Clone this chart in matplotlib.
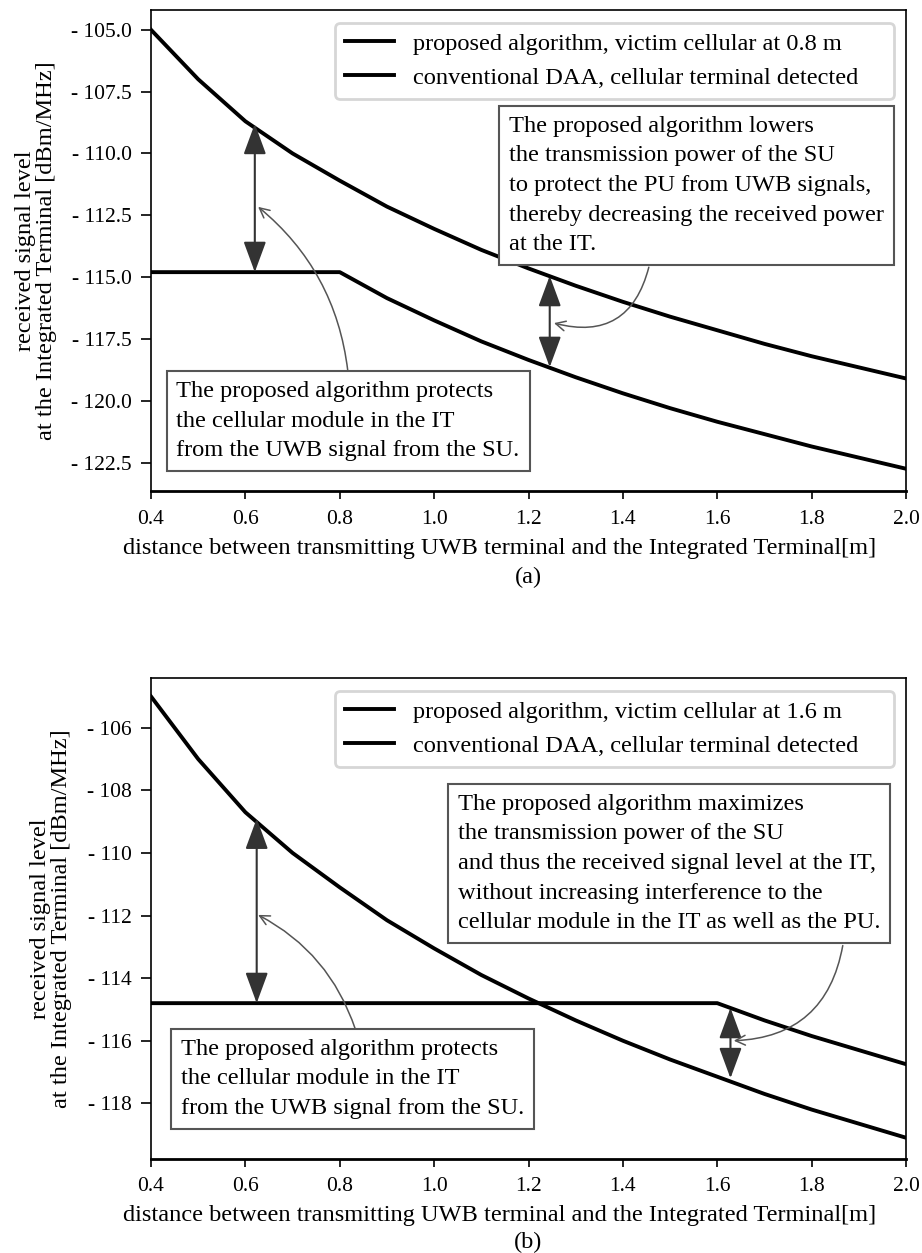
import matplotlib

matplotlib.use("Agg")
import matplotlib.pyplot as plt  # noqa: E402
from matplotlib.ticker import FuncFormatter  # noqa: E402

plt.rcParams["font.family"] = ["Liberation Serif", "DejaVu Serif"]
plt.rcParams["font.size"] = 17.6

# distance between transmitting UWB terminal and the IT [m]
dist = [0.4, 0.5, 0.6, 0.7, 0.8, 0.9, 1.0, 1.1, 1.2, 1.3, 1.4, 1.5, 1.6,
        1.7, 1.8, 1.9, 2.0]

# received level [dBm/MHz]
smooth_level = [-105.0, -107.0, -108.7, -110.0, -111.1, -112.15, -113.05,
                -113.9, -114.65, -115.35, -116.0, -116.6, -117.15, -117.7,
                -118.2, -118.65, -119.1]
kinked_level_a = [-114.8, -114.8, -114.8, -114.8, -114.8, -115.85, -116.75,
                  -117.6, -118.35, -119.05, -119.7, -120.3, -120.85, -121.35,
                  -121.85, -122.3, -122.75]
kinked_level_b = [-114.8, -114.8, -114.8, -114.8, -114.8, -114.8, -114.8,
                  -114.8, -114.8, -114.8, -114.8, -114.8, -114.8, -115.35,
                  -115.85, -116.3, -116.75]

xticks = [0.4, 0.6, 0.8, 1.0, 1.2, 1.4, 1.6, 1.8, 2.0]
yticks_a = [-105.0, -107.5, -110.0, -112.5, -115.0, -117.5, -120.0, -122.5]
yticks_b = [-106, -108, -110, -112, -114, -116, -118]

label_prop_a = "proposed algorithm, victim cellular at 0.8 m"
label_prop_b = "proposed algorithm, victim cellular at 1.6 m"
label_conv = "conventional DAA, cellular terminal detected"

note_protect = ("The proposed algorithm protects\n"
                "the cellular module in the IT\n"
                "from the UWB signal from the SU.")
note_lower = ("The proposed algorithm lowers\n"
              "the transmission power of the SU\n"
              "to protect the PU from UWB signals,\n"
              "thereby decreasing the received power\n"
              "at the IT.")
note_max = ("The proposed algorithm maximizes\n"
            "the transmission power of the SU\n"
            "and thus the received signal level at the IT,\n"
            "without increasing interference to the\n"
            "cellular module in the IT as well as the PU.")

W, H = 922, 1253
BOX = dict(boxstyle="square,pad=0.4", fc="white", ec="#555555", lw=1.5)
DOUBLE = dict(arrowstyle="<|-|>,head_length=0.95,head_width=0.35",
              mutation_scale=20, color="#333333", lw=1.5,
              shrinkA=0, shrinkB=0)
LS = 1.54  # line spacing inside the note boxes


def curved(rad):
    return dict(arrowstyle="->", color="#555555", lw=1.1,
                connectionstyle=f"arc3,rad={rad}", shrinkA=0, shrinkB=0)


def setup(ax, yticks, fmt, ylim, ylab_x, xlab_y, leg_top):
    ax.set_xlim(0.4, 2.0)
    ax.set_ylim(*ylim)
    ax.set_xticks(xticks)
    ax.set_yticks(yticks)
    ax.yaxis.set_major_formatter(FuncFormatter(lambda v, p: fmt % abs(v)))
    ax.tick_params(labelsize=15.5, direction="out", width=1.2,
                   top=False, right=False)
    ax.tick_params(axis="y", length=7, pad=7)
    ax.tick_params(axis="x", length=5.5, pad=8)
    for s in ax.spines.values():
        s.set_linewidth(1.2)
    ax.spines["bottom"].set_linewidth(2.0)
    ax.set_xlabel("distance between transmitting UWB terminal and the "
                  "Integrated Terminal[m]")
    ax.xaxis.set_label_coords((499.5 - 151) / 755, xlab_y)
    ax.set_ylabel("received signal level\n"
                  "at the Integrated Terminal [dBm/MHz]", linespacing=1.0)
    ax.yaxis.set_label_coords(ylab_x, 0.5)
    x0 = (335 - 151) / 755
    leg = ax.legend(loc="upper left", mode="expand", borderaxespad=0,
                    bbox_to_anchor=(x0, 0, (894 - 335) / 755, leg_top))
    leg.get_frame().set_linewidth(2.0)


fig = plt.figure(figsize=(W / 100, H / 100), dpi=100)

# (a)
ax1 = fig.add_axes([151 / W, 1 - 491 / H, 755 / W, 481 / H])
ax1.plot(dist, kinked_level_a, color="black", lw=2.8, label=label_prop_a)
ax1.plot(dist, smooth_level, color="black", lw=2.8, label=label_conv)
setup(ax1, yticks_a, "- %.1f", (-123.65, -104.2), (57 - 151) / 755,
      (491 - 538.5) / 481, 1 - 12.7 / 481)
ax1.annotate("", xy=(0.62, -108.8), xytext=(0.62, -114.8), arrowprops=DOUBLE)
ax1.annotate("", xy=(1.245, -114.95), xytext=(1.245, -118.64),
             arrowprops=DOUBLE)
ax1.text(0.454, -119.2, note_protect, ha="left", va="top", bbox=BOX,
         linespacing=LS)
ax1.text(1.159, -108.48, note_lower, ha="left", va="top", bbox=BOX,
         linespacing=LS)
ax1.annotate("", xy=(0.627, -112.16), xytext=(0.817, -118.78),
             arrowprops=curved(0.2))
ax1.annotate("", xy=(1.254, -116.86), xytext=(1.455, -114.6),
             arrowprops=curved(-0.5))
fig.text(528.5 / W, 1 - 577 / H, "(a)", ha="center", va="center")

# (b)
ax2 = fig.add_axes([151 / W, 1 - 1158.7 / H, 755 / W, 480.4 / H])
ax2.plot(dist, kinked_level_b, color="black", lw=2.8, label=label_prop_b)
ax2.plot(dist, smooth_level, color="black", lw=2.8, label=label_conv)
setup(ax2, yticks_b, "- %.0f", (-119.77, -104.42), (71.7 - 151) / 755,
      (1158.7 - 1204.5) / 480.4, 1 - 12.4 / 480.4)
ax2.annotate("", xy=(0.624, -108.9), xytext=(0.624, -114.8), arrowprops=DOUBLE)
ax2.annotate("", xy=(1.628, -114.95), xytext=(1.628, -117.2),
             arrowprops=DOUBLE)
ax2.text(0.463, -115.94, note_protect, ha="left", va="top", bbox=BOX,
         linespacing=LS)
ax2.text(1.05, -108.11, note_max, ha="left", va="top", bbox=BOX,
         linespacing=LS)
ax2.annotate("", xy=(0.627, -111.98), xytext=(0.833, -115.63),
             arrowprops=curved(0.2))
ax2.annotate("", xy=(1.635, -116.0), xytext=(1.866, -112.96),
             arrowprops=curved(-0.4))
fig.text(528.5 / W, 1 - 1242 / H, "(b)", ha="center", va="center")

fig.savefig("out.png", dpi=100)
